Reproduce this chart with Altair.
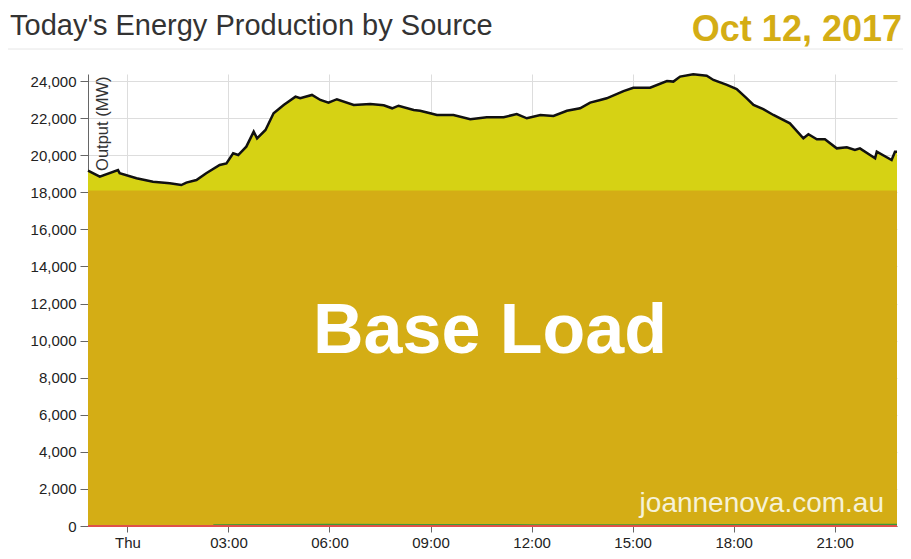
import json
import altair as alt
import pandas as pd

# ---- data ----
HOURS = [-1.17, -0.82, -0.28, -0.23, 0.27, 0.76, 1.26, 1.60, 1.75, 2.05, 2.34, 2.74, 2.94,
         3.14, 3.29, 3.53, 3.75, 3.85, 4.10, 4.34, 4.64, 4.99, 5.13, 5.48, 5.73, 5.97,
         6.22, 6.72, 7.21, 7.61, 7.86, 8.05, 8.50, 8.69, 8.99, 9.19, 9.68, 10.18, 10.67,
         11.17, 11.56, 11.86, 12.26, 12.65, 13.05, 13.44, 13.74, 14.04, 14.23, 14.73,
         15.02, 15.52, 16.02, 16.21, 16.41, 16.80, 17.20, 17.40, 17.80, 18.09, 18.39,
         18.59, 18.88, 19.18, 19.67, 20.07, 20.22, 20.47, 20.71, 21.06, 21.36, 21.60,
         21.75, 22.20, 22.25, 22.69, 22.79, 22.85]
TOTAL = [19170, 18840, 19200, 19030, 18760, 18570, 18490, 18390, 18520, 18660, 19030, 19470, 19560,
         20100, 20010, 20460, 21270, 20910, 21360, 22260, 22710, 23160, 23070, 23250, 22980, 22830,
         23020, 22710, 22760, 22690, 22530, 22670, 22440, 22400, 22260, 22170, 22170, 21940, 22050,
         22050, 22220, 21990, 22170, 22120, 22400, 22530, 22840, 22980, 23070, 23460,
         23640, 23640, 24000, 23970, 24240, 24370, 24290, 24060, 23790, 23570, 23070,
         22710, 22480, 22170, 21720, 20910, 21130, 20860, 20860, 20370, 20430, 20280,
         20370, 19830, 20190, 19740, 20190, 20190]

BASE_HOURS = [-1.17, 22.85]
BASE_LOAD = [18100, 18100]

RED_HOURS = [-1.17, 22.85]
RED_VALUES = [0, 0]
GREEN_HOURS = [2.55, 4.0, 6.0, 9.0, 12.0, 15.0, 18.0, 21.0, 22.85]
GREEN_VALUES = [60, 70, 80, 70, 60, 60, 70, 80, 80]

TICK_HOURS = [0, 3, 6, 9, 12, 15, 18, 21]
TICK_LABELS = ["Thu", "03:00", "06:00", "09:00", "12:00", "15:00", "18:00", "21:00"]
Y_TICKS = [0, 2000, 4000, 6000, 8000, 10000, 12000, 14000, 16000, 18000, 20000, 22000, 24000]

TITLE = "Today's Energy Production by Source"
DATE = "Oct 12, 2017"
BIG = "Base Load"
MARK = "joannenova.com.au"

FONT = "Liberation Sans"
GOLD = "#D4AD15"
YELLOW = "#D6D214"

label_expr = json.dumps(TICK_LABELS) + "[datum.value / 3]"

X = alt.X("hour:Q",
          scale=alt.Scale(domain=[BASE_HOURS[0], BASE_HOURS[1]], nice=False, zero=False),
          axis=alt.Axis(values=TICK_HOURS, labelExpr=label_expr, title=None, grid=True,
                        tickSize=6, labelPadding=3, labelFontSize=15, labelFlush=False))
Y = alt.Y("mw:Q",
          scale=alt.Scale(domain=[0, 24380], nice=False),
          axis=alt.Axis(values=Y_TICKS, format=",d", grid=True, tickSize=8, labelPadding=4,
                        labelFontSize=15, title="Output (MW)", titleX=19, titleY=2,
                        titleAngle=270, titleAlign="right", titleBaseline="alphabetic",
                        titleFontSize=16.5, titleFontWeight="normal", titleColor="#333"))

df_total = pd.DataFrame({"hour": HOURS, "mw": TOTAL})
df_base = pd.DataFrame({"hour": BASE_HOURS, "mw": BASE_LOAD})
df_red = pd.DataFrame({"hour": RED_HOURS, "mw": RED_VALUES})
df_green = pd.DataFrame({"hour": GREEN_HOURS, "mw": GREEN_VALUES})

total_area = alt.Chart(df_total).mark_area(color=YELLOW, opacity=1).encode(x=X, y=Y)
base_area = alt.Chart(df_base).mark_area(color=GOLD, opacity=1).encode(x=X, y=Y)
total_line = alt.Chart(df_total).mark_line(color="#111111", strokeWidth=2.5).encode(x=X, y=Y)
green_line = alt.Chart(df_green).mark_line(color="#3a9a3a", strokeWidth=1.5).encode(x=X, y=Y)
red_line = alt.Chart(df_red).mark_line(color="#e0504a", strokeWidth=2).encode(x=X, y=Y)

title_txt = alt.Chart(pd.DataFrame({"t": [TITLE]})).mark_text(
    font=FONT, fontSize=29, color="#333333", align="left", baseline="alphabetic"
).encode(text="t:N", x=alt.value(-78), y=alt.value(-39))

date_txt = alt.Chart(pd.DataFrame({"t": [DATE]})).mark_text(
    font=FONT, fontSize=36, fontWeight="bold", color=GOLD, align="right", baseline="alphabetic"
).encode(text="t:N", x=alt.value(814), y=alt.value(-33))

big_txt = alt.Chart(pd.DataFrame({"t": [BIG]})).mark_text(
    font=FONT, fontSize=70, fontWeight="bold", color="white", align="center", baseline="middle"
).encode(text="t:N", x=alt.value(402), y=alt.value(258))

mark_txt = alt.Chart(pd.DataFrame({"t": [MARK]})).mark_text(
    font=FONT, fontSize=28, color="#F6F2D8", align="right", baseline="alphabetic"
).encode(text="t:N", x=alt.value(796), y=alt.value(438))

sep = alt.Chart(pd.DataFrame({"t": [0]})).mark_rule(color="#e6e6e6", strokeWidth=1).encode(
    x=alt.value(-80), x2=alt.value(815), y=alt.value(-25))

chart = alt.layer(
    total_area, base_area, total_line, green_line, red_line,
    title_txt, date_txt, big_txt, mark_txt, sep
).properties(
    width=809, height=452,
    autosize=alt.AutoSizeParams(type="none"),
    padding={"left": 80, "top": 66, "right": 6, "bottom": 25},
).configure_view(stroke=None).configure_axis(
    labelFont=FONT, titleFont=FONT, labelColor="#222222",
    domainColor="#666666", tickColor="#666666", gridColor="#dddddd", gridWidth=1
)

chart.save("out.html", embed_options={"renderer": "svg", "actions": False})
